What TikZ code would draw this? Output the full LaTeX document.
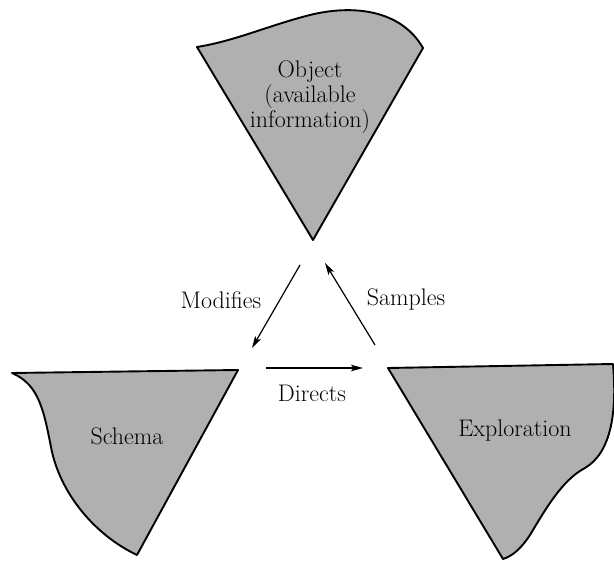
\documentclass[tikz,border=0pt]{standalone}
\usepackage{fontspec}
\usetikzlibrary{arrows.meta}
\begin{document}
\begin{tikzpicture}[x=1pt,y=-1pt,
  blob/.style={draw=black,line width=1.9pt,fill=black!31,line join=round},
  lbl/.style={font=\fontsize{24}{25}\selectfont\addfontfeatures{LetterSpace=7},inner sep=1pt,align=center},
  conn/.style={line width=1.2pt,-{Stealth[length=12pt,width=6.5pt,inset=2.5pt]}}]
\useasboundingbox (0,0) rectangle (614,561);
% Object
\draw[blob] (197,47) .. controls (235,41) and (270,25) .. (310,15)
  .. controls (350,5) and (400,8) .. (423,48) -- (313,240) -- cycle;
% Schema
\draw[blob] (12,373) -- (238,370) -- (137,555)
  .. controls (95,535) and (62,495) .. (52,452)
  .. controls (44,412) and (40,385) .. (12,373) -- cycle;
% Exploration
\draw[blob] (388,368) -- (613,364)
  .. controls (617,410) and (612,452) .. (585,468)
  .. controls (562,480) and (545,510) .. (530,535)
  .. controls (520,550) and (512,556) .. (503,559) -- cycle;
\node[lbl] (object) at (310,97) {Object\\(available\\information)};
\node[lbl] (schema) at (127,436) {Schema};
\node[lbl] (exploration) at (515,431) {Exploration};
% arrow ends
\coordinate (m1) at (300,265);
\coordinate (m2) at (252,348);
\coordinate (s1) at (375,345);
\coordinate (s2) at (325,263);
\coordinate (d1) at (266,368);
\coordinate (d2) at (363,368);
\draw[conn] (m1) -- (m2);
\draw[conn] (s1) -- (s2);
\draw[conn] (d1) -- (d2);
\node[lbl] (modifies) at (221,300) {Modifies};
\node[lbl] (samples) at (406,299) {Samples};
\node[lbl] (directs) at (312,393) {Directs};
\end{tikzpicture}
\end{document}
